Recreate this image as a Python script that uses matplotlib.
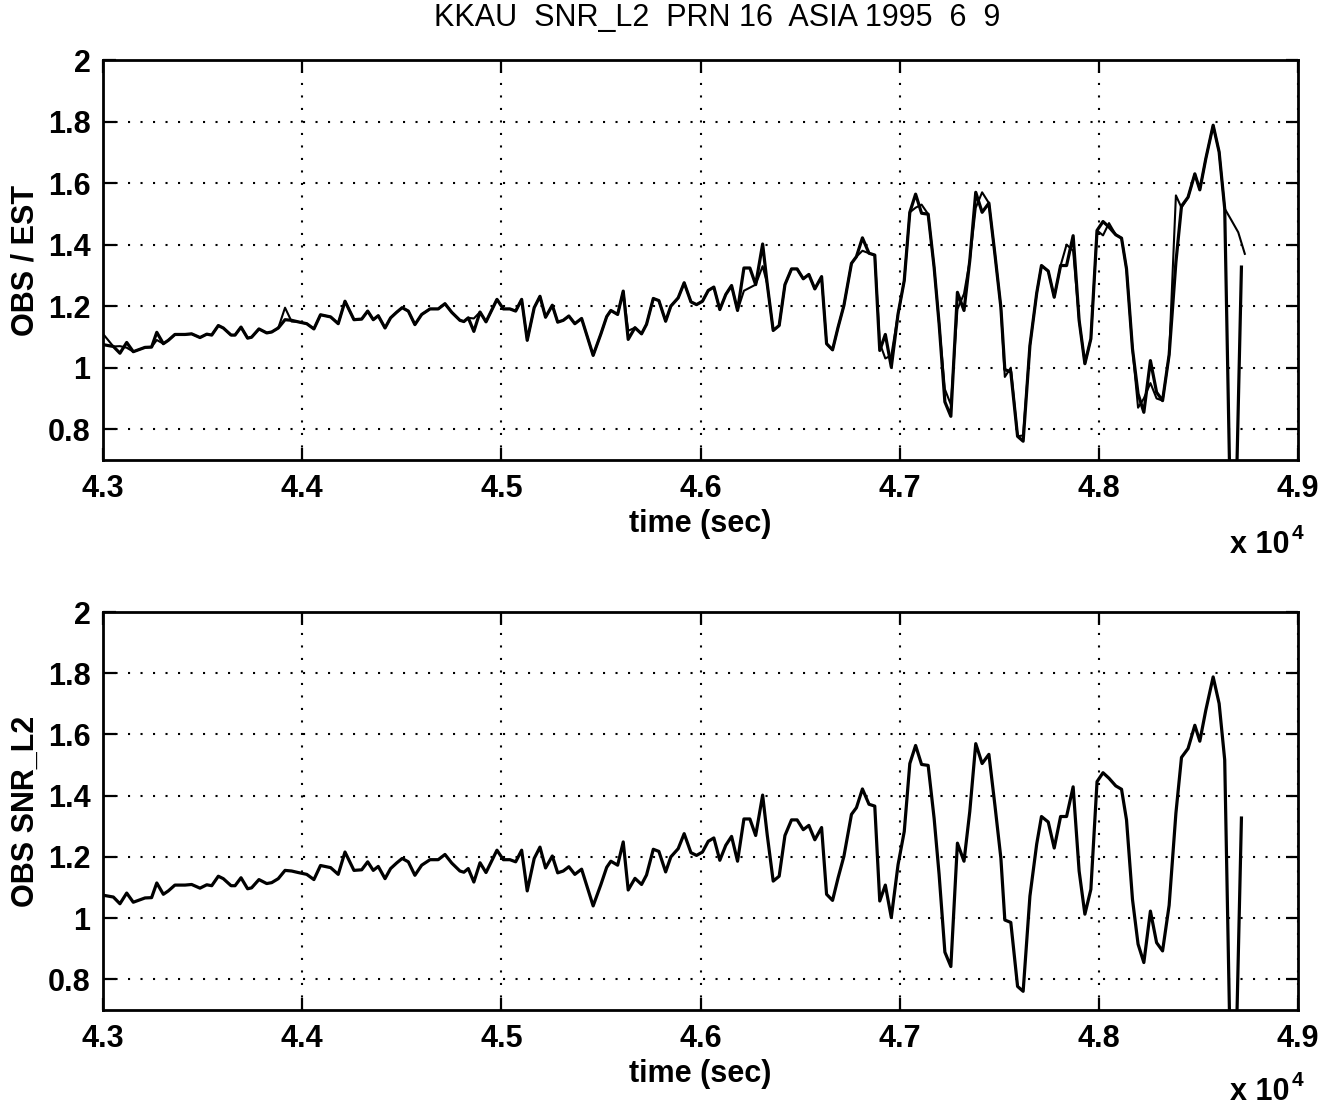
import matplotlib
matplotlib.use('Agg')
import matplotlib.pyplot as plt

plt.rcParams['font.family'] = ['Liberation Sans', 'DejaVu Sans']

# observed SNR_L2 (time in sec, value)
t_obs = [43000, 43052, 43085, 43119, 43152, 43186, 43211, 43244, 43270, 43303,
         43328, 43361, 43412, 43445, 43487, 43521, 43546, 43579, 43604, 43643,
         43663, 43693, 43726, 43746, 43783, 43822, 43847, 43880, 43914, 43947,
         43980, 44023, 44059, 44092, 44143, 44181, 44215, 44260, 44299, 44329,
         44357, 44382, 44416, 44444, 44474, 44502, 44533, 44566, 44600, 44642,
         44683, 44717, 44751, 44792, 44812, 44834, 44862, 44893, 44923, 44978,
         45010, 45043, 45072, 45102, 45130, 45165, 45194, 45222, 45256, 45283,
         45311, 45339, 45369, 45403, 45461, 45500, 45529, 45550, 45584, 45612,
         45637, 45671, 45704, 45729, 45763, 45791, 45825, 45851, 45888, 45918,
         45952, 45980, 46010, 46039, 46067, 46097, 46127, 46156, 46186, 46218,
         46248, 46277, 46312, 46335, 46365, 46395, 46424, 46457, 46485, 46516,
         46544, 46574, 46608, 46633, 46663, 46691, 46720, 46758, 46783, 46813,
         46846, 46875, 46900, 46928, 46958, 46992, 47023, 47051, 47080, 47110,
         47143, 47173, 47198, 47227, 47257, 47290, 47323, 47352, 47382, 47414,
         47448, 47478, 47508, 47528, 47558, 47592, 47620, 47654, 47688, 47712,
         47746, 47776, 47808, 47838, 47871, 47901, 47930, 47960, 47991, 48021,
         48051, 48085, 48114, 48139, 48169, 48197, 48226, 48259, 48290, 48320,
         48353, 48387, 48415, 48448, 48482, 48507, 48537, 48574, 48604, 48632,
         48673, 48716]

obs = [1.075, 1.069, 1.047, 1.082, 1.052, 1.060, 1.066, 1.067, 1.115, 1.078,
       1.089, 1.108, 1.108, 1.110, 1.098, 1.109, 1.106, 1.137, 1.129, 1.106,
       1.106, 1.132, 1.096, 1.099, 1.126, 1.113, 1.116, 1.129, 1.156, 1.154,
       1.149, 1.143, 1.126, 1.172, 1.165, 1.143, 1.216, 1.156, 1.158, 1.184,
       1.156, 1.169, 1.129, 1.162, 1.180, 1.195, 1.184, 1.140, 1.173, 1.191,
       1.191, 1.208, 1.180, 1.154, 1.150, 1.162, 1.118, 1.181, 1.149, 1.222,
       1.191, 1.191, 1.184, 1.222, 1.089, 1.195, 1.232, 1.164, 1.203, 1.148,
       1.154, 1.168, 1.143, 1.160, 1.040, 1.110, 1.166, 1.186, 1.173, 1.249,
       1.092, 1.130, 1.110, 1.141, 1.225, 1.218, 1.151, 1.200, 1.227, 1.276,
       1.214, 1.205, 1.216, 1.251, 1.262, 1.189, 1.238, 1.267, 1.186, 1.324,
       1.324, 1.270, 1.402, 1.272, 1.121, 1.137, 1.270, 1.321, 1.321, 1.289,
       1.303, 1.256, 1.296, 1.078, 1.058, 1.132, 1.202, 1.339, 1.361, 1.422,
       1.372, 1.366, 1.056, 1.108, 1.002, 1.175, 1.283, 1.505, 1.564, 1.502,
       1.499, 1.326, 1.143, 0.889, 0.842, 1.245, 1.186, 1.348, 1.570, 1.505,
       1.535, 1.370, 1.197, 0.994, 0.986, 0.777, 0.761, 1.072, 1.242, 1.332,
       1.314, 1.229, 1.332, 1.332, 1.429, 1.154, 1.013, 1.094, 1.446, 1.475,
       1.457, 1.432, 1.421, 1.321, 1.061, 0.915, 0.855, 1.023, 0.920, 0.893,
       1.042, 1.343, 1.525, 1.554, 1.630, 1.578, 1.679, 1.788, 1.701, 1.517,
       0.100, 1.327]

# estimate: follows obs except at these samples, and continues past the dropout
est_fix_time = [43000, 43085, 43119, 43270, 43914, 43947, 44862, 45637, 46218, 46248,
                46312, 46813, 46900, 46928, 46958, 47080, 47110, 47227, 47257, 47290,
                47323, 47382, 47414, 47528, 47558, 47620, 47838, 47871, 48021, 48051,
                48197, 48226, 48259, 48290, 48387, 48415]
est_fix_value = [1.110, 1.070, 1.065, 1.090, 1.195, 1.150, 1.160, 1.120, 1.250, 1.260,
                 1.330, 1.380, 1.080, 1.030, 1.040, 1.520, 1.530, 0.930, 0.880, 1.190,
                 1.240, 1.520, 1.570, 0.970, 1.000, 0.780, 1.400, 1.380, 1.430, 1.470,
                 0.870, 0.900, 0.950, 0.900, 1.560, 1.520]
est_tail_time = [48665, 48700, 48733]
est_tail_value = [1.48, 1.44, 1.37]

fix = dict(zip(est_fix_time, est_fix_value))
t_est = t_obs[:-2] + est_tail_time
est = [fix.get(t, v) for t, v in zip(t_obs[:-2], obs[:-2])] + est_tail_value

xticks = [43000, 44000, 45000, 46000, 47000, 48000, 49000]
xticklabels = ['4.3', '4.4', '4.5', '4.6', '4.7', '4.8', '4.9']
yticks = [0.8, 1.0, 1.2, 1.4, 1.6, 1.8, 2.0]
yticklabels = ['0.8', '1', '1.2', '1.4', '1.6', '1.8', '2']

W, H = 1340, 1111
fig = plt.figure(figsize=(W / 100, H / 100), dpi=100)
ax1 = fig.add_axes([103 / W, 1 - 460 / H, 1195 / W, 400 / H])
ax2 = fig.add_axes([103 / W, 1 - 1010 / H, 1195 / W, 398 / H])

fs = 22

def style(ax, ylabel):
    ax.set_xlim(43000, 49000)
    ax.set_ylim(0.7, 2.0)
    ax.set_xticks(xticks)
    ax.set_xticklabels(xticklabels, fontweight='bold')
    ax.set_yticks(yticks)
    ax.set_yticklabels(yticklabels, fontweight='bold')
    ax.tick_params(direction='in', length=9, width=1.6, top=True, right=True,
                   labelsize=fs)
    ax.tick_params(axis='x', pad=10)
    ax.tick_params(axis='y', pad=9)
    ax.grid(True, color='k', linestyle=(0, (1, 5)), linewidth=1.5)
    for s in ax.spines.values():
        s.set_linewidth(2)
    ax.set_xlabel('time (sec)', fontsize=fs, fontweight='bold', labelpad=4)
    ax.set_ylabel(ylabel, fontsize=fs, fontweight='bold', labelpad=5)

ax1.plot(t_obs, obs, color='k', lw=2.3)
ax1.plot(t_est, est, color='k', lw=1.5)
style(ax1, 'OBS / EST')

ax2.plot(t_obs, obs, color='k', lw=2.3)
style(ax2, 'OBS SNR_L2')

fig.text(717 / W, 1 - 18 / H, 'KKAU  SNR_L2  PRN 16  ASIA 1995  6  9',
         ha='center', va='center', fontsize=fs)

# exponent labels
for ybase in (553, 1100):
    fig.text(1290 / W, 1 - ybase / H, 'x 10', ha='right', va='baseline',
             fontsize=fs, fontweight='bold')
    fig.text(1292 / W, 1 - (ybase - 14) / H, '4', ha='left', va='baseline',
             fontsize=15, fontweight='bold')

fig.savefig('out.png', dpi=100)
